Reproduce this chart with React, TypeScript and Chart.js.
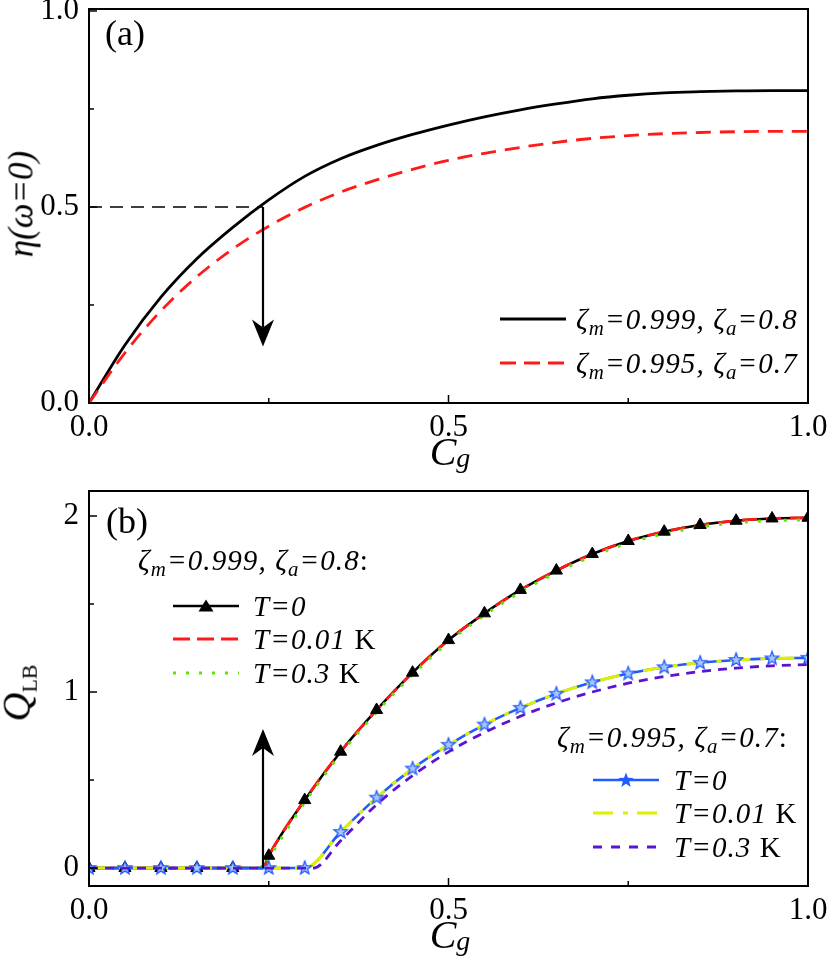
import { useEffect, useRef, type CSSProperties, type ReactNode } from "react";
import { Chart, registerables, type ChartConfiguration, type Plugin } from "chart.js";

Chart.register(...registerables);

// ---- values ----
const CG = [0, 0.05, 0.1, 0.15, 0.2, 0.25, 0.3, 0.35, 0.4, 0.45, 0.5, 0.55, 0.6, 0.65, 0.7, 0.75, 0.8, 0.85, 0.9, 0.95, 1.0];

// (a) eta(omega=0)
const ETA_M999_A08 = [0, 0.148, 0.27, 0.368, 0.448, 0.518, 0.578, 0.623, 0.657, 0.685, 0.709, 0.73, 0.748, 0.763, 0.776, 0.785, 0.791, 0.794, 0.796, 0.797, 0.797];
const ETA_M995_A07 = [0, 0.128, 0.235, 0.322, 0.393, 0.451, 0.499, 0.538, 0.569, 0.596, 0.619, 0.637, 0.652, 0.665, 0.675, 0.682, 0.687, 0.69, 0.692, 0.693, 0.693];

// (b) Q_LB, zeta_m=0.999, zeta_a=0.8 (onset near C_g = 0.242)
const CG_999 = [0, 0.05, 0.1, 0.15, 0.2, 0.242, 0.25, 0.3, 0.35, 0.4, 0.45, 0.5, 0.55, 0.6, 0.65, 0.7, 0.75, 0.8, 0.85, 0.9, 0.95, 1.0];
const Q999_T0 = [0, 0, 0, 0, 0, 0, 0.07, 0.386, 0.661, 0.898, 1.11, 1.295, 1.447, 1.58, 1.69, 1.784, 1.858, 1.911, 1.949, 1.973, 1.986, 1.99];
const Q999_T001 = [0, 0, 0, 0, 0, 0, 0.07, 0.386, 0.661, 0.898, 1.11, 1.295, 1.447, 1.58, 1.69, 1.784, 1.858, 1.911, 1.949, 1.973, 1.986, 1.99];
const Q999_T03 = [0, 0, 0, 0, 0, 0, 0.055, 0.372, 0.648, 0.886, 1.098, 1.283, 1.436, 1.568, 1.678, 1.772, 1.846, 1.899, 1.937, 1.961, 1.974, 1.978];

// (b) Q_LB, zeta_m=0.995, zeta_a=0.7 (onset near C_g = 0.30)
const Q995_T0 = [0, 0, 0, 0, 0, 0, 0, 0.205, 0.4, 0.565, 0.7, 0.815, 0.91, 0.99, 1.055, 1.105, 1.141, 1.166, 1.182, 1.191, 1.194];
const Q995_T001 = [0, 0, 0, 0, 0, 0, 0, 0.205, 0.4, 0.565, 0.7, 0.815, 0.91, 0.99, 1.055, 1.105, 1.141, 1.166, 1.182, 1.191, 1.194];
const CG_995_T03 = [0, 0.05, 0.1, 0.15, 0.2, 0.25, 0.3, 0.312, 0.35, 0.4, 0.45, 0.5, 0.55, 0.6, 0.65, 0.7, 0.75, 0.8, 0.85, 0.9, 0.95, 1.0];
const Q995_T03 = [0, 0, 0, 0, 0, 0, 0, 0, 0.155, 0.36, 0.525, 0.66, 0.77, 0.862, 0.938, 1.0, 1.05, 1.088, 1.116, 1.136, 1.149, 1.156];

// axes
const X_TICKS = [0, 0.5, 1];
const X_TICK_LABELS = ["0.0", "0.5", "1.0"];
const X_MINOR = [0.25, 0.75];
const YA_TICKS = [0, 0.5, 1];
const YA_TICK_LABELS = ["0.0", "0.5", "1.0"];
const YA_MINOR = [0.25, 0.75];
const YB_TICKS = [0, 1, 2];
const YB_TICK_LABELS = ["0", "1", "2"];
const YB_MINOR = [0.5, 1.5];

// annotations
const ONSET_CG = 0.242;
const ETA_HALF = 0.5;
const ARROW_A_TIP = 0.144;
const ARROW_B_TIP = 0.79;

const SERIF = "'Liberation Serif', 'Times New Roman', Times, serif";
const TICK_FONT = { family: SERIF, size: 31 };

const BLUE = "#1f5cff";
const YELLOW = "#dcf000";
const PURPLE = "#5a14d2";
const RED = "#ff1a1a";
const GREEN = "#5fe600";

const pts = (xs: number[], ys: number[]) => xs.map((x, i) => ({ x, y: ys[i] }));
const onGrid = (p: { x: number }) => Math.abs(p.x * 20 - Math.round(p.x * 20)) < 1e-6;

function makeStar(fill: string, stroke: string, r: number): HTMLCanvasElement {
  const c = document.createElement("canvas");
  const s = Math.ceil(r * 2 + 4);
  c.width = s;
  c.height = s;
  const g = c.getContext("2d")!;
  g.beginPath();
  for (let k = 0; k < 10; k++) {
    const rr = k % 2 === 0 ? r : r * 0.42;
    const a = -Math.PI / 2 + (k * Math.PI) / 5;
    g.lineTo(s / 2 + rr * Math.cos(a), s / 2 + rr * Math.sin(a));
  }
  g.closePath();
  g.fillStyle = fill;
  g.fill();
  g.lineWidth = 1.3;
  g.strokeStyle = stroke;
  g.stroke();
  return c;
}

function drawArrow(ctx: CanvasRenderingContext2D, x: number, yFrom: number, yTo: number) {
  const dir = Math.sign(yTo - yFrom);
  const headLen = 27;
  const half = 11;
  const notch = 19;
  ctx.setLineDash([]);
  ctx.lineWidth = 2.2;
  ctx.beginPath();
  ctx.moveTo(x, yFrom);
  ctx.lineTo(x, yTo - dir * notch);
  ctx.stroke();
  ctx.beginPath();
  ctx.moveTo(x, yTo);
  ctx.lineTo(x - half, yTo - dir * headLen);
  ctx.lineTo(x, yTo - dir * notch);
  ctx.lineTo(x + half, yTo - dir * headLen);
  ctx.closePath();
  ctx.fill();
}

type Extra = (ctx: CanvasRenderingContext2D, sx: any, sy: any) => void;

function framePlugin(yMajor: number[], yMinor: number[], extra: Extra): Plugin {
  return {
    id: "frameTicks",
    afterDraw(chart) {
      const { ctx, chartArea: a, scales } = chart;
      const sx = scales.x;
      const sy = scales.y;
      ctx.save();
      ctx.strokeStyle = "#000";
      ctx.fillStyle = "#000";
      extra(ctx, sx, sy);
      ctx.setLineDash([]);
      ctx.lineWidth = 1.5;
      const xt = (v: number, len: number) => {
        const px = sx.getPixelForValue(v);
        ctx.beginPath();
        ctx.moveTo(px, a.bottom);
        ctx.lineTo(px, a.bottom - len);
        ctx.stroke();
      };
      const yt = (v: number, len: number) => {
        const py = sy.getPixelForValue(v);
        ctx.beginPath();
        ctx.moveTo(a.left, py);
        ctx.lineTo(a.left + len, py);
        ctx.stroke();
      };
      X_TICKS.forEach((v) => xt(v, 8));
      X_MINOR.forEach((v) => xt(v, 5));
      yMajor.forEach((v) => yt(v, 8));
      yMinor.forEach((v) => yt(v, 5));
      ctx.lineWidth = 2;
      ctx.strokeRect(a.left, a.top, a.right - a.left, a.bottom - a.top);
      ctx.restore();
    },
  };
}

function xAxis(): any {
  return {
    type: "linear",
    min: 0,
    max: 1,
    grid: { display: false, drawTicks: false },
    border: { display: false },
    ticks: {
      font: TICK_FONT,
      color: "#000",
      padding: 6,
      maxRotation: 0,
      autoSkip: false,
      callback: (_v: any, i: number) => X_TICK_LABELS[i],
    },
    afterBuildTicks: (s: any) => {
      s.ticks = X_TICKS.map((value) => ({ value }));
    },
    afterFit: (s: any) => {
      s.height = 50;
      s.paddingLeft = 0;
      s.paddingRight = 0;
    },
  };
}

function yAxis(min: number, max: number, ticks: number[], labels: string[]): any {
  return {
    type: "linear",
    min,
    max,
    grid: { display: false, drawTicks: false },
    border: { display: false },
    ticks: {
      font: TICK_FONT,
      color: "#000",
      padding: 10,
      autoSkip: false,
      callback: (_v: any, i: number) => labels[i],
    },
    afterBuildTicks: (s: any) => {
      s.ticks = ticks.map((value) => ({ value }));
    },
    afterFit: (s: any) => {
      s.width = 89;
      s.paddingTop = 0;
      s.paddingBottom = 0;
    },
  };
}

const line = (data: any[], color: string, width: number, dash: number[], order: number) => ({
  data,
  borderColor: color,
  borderWidth: width,
  borderDash: dash,
  borderCapStyle: "butt" as const,
  pointRadius: 0,
  fill: false,
  cubicInterpolationMode: "monotone" as const,
  order,
});

function PanelA() {
  const ref = useRef<HTMLCanvasElement>(null);
  useEffect(() => {
    const canvas = ref.current;
    if (!canvas) return;
    const extra: Extra = (ctx, sx, sy) => {
      const xo = sx.getPixelForValue(ONSET_CG);
      const yh = sy.getPixelForValue(ETA_HALF);
      ctx.lineWidth = 1.5;
      ctx.setLineDash([13, 8]);
      ctx.beginPath();
      ctx.moveTo(sx.getPixelForValue(0), yh);
      ctx.lineTo(xo, yh);
      ctx.stroke();
      drawArrow(ctx, xo, yh, sy.getPixelForValue(ARROW_A_TIP));
    };
    const config: ChartConfiguration = {
      type: "line",
      data: {
        datasets: [
          line(pts(CG, ETA_M995_A07), RED, 2.8, [15, 9], 0),
          line(pts(CG, ETA_M999_A08), "#000", 2.8, [], 1),
        ] as any,
      },
      options: {
        responsive: false,
        animation: false,
        layout: { padding: { left: 0, right: 20, top: 9, bottom: 17 } },
        plugins: { legend: { display: false }, tooltip: { enabled: false } },
        scales: { x: xAxis(), y: yAxis(0, 1.005, YA_TICKS, YA_TICK_LABELS) },
      },
      plugins: [framePlugin(YA_TICKS, YA_MINOR, extra)],
    };
    Chart.getChart(canvas)?.destroy();
    const chart = new Chart(canvas, config);
    return () => chart.destroy();
  }, []);
  return <canvas ref={ref} width={828} height={470} style={{ position: "absolute", left: 0, top: 0 }} />;
}

function PanelB() {
  const ref = useRef<HTMLCanvasElement>(null);
  useEffect(() => {
    const canvas = ref.current;
    if (!canvas) return;
    const star = makeStar("#a9c4ff", BLUE, 7);
    const extra: Extra = (ctx, sx, sy) => {
      drawArrow(ctx, sx.getPixelForValue(ONSET_CG), sy.getPixelForValue(0), sy.getPixelForValue(ARROW_B_TIP));
    };
    const config: ChartConfiguration = {
      type: "line",
      data: {
        datasets: [
          line(pts(CG_995_T03, Q995_T03), PURPLE, 2.8, [9, 7], 0),
          {
            data: pts(CG, Q995_T0).filter(onGrid),
            showLine: false,
            pointStyle: star,
            pointRadius: 7,
            order: 1,
          },
          {
            data: pts(CG_999, Q999_T0).filter(onGrid),
            showLine: false,
            pointStyle: "triangle",
            pointRadius: 7,
            pointBackgroundColor: "#000",
            pointBorderColor: "#000",
            pointBorderWidth: 1,
            order: 2,
          },
          line(pts(CG, Q995_T001), YELLOW, 3, [20, 10, 5, 9], 3),
          line(pts(CG, Q995_T0), BLUE, 2.6, [], 4),
          line(pts(CG_999, Q999_T03), GREEN, 3, [3, 10], 5),
          line(pts(CG_999, Q999_T001), RED, 2.8, [15, 9], 6),
          line(pts(CG_999, Q999_T0), "#000", 2.6, [], 7),
        ] as any,
      },
      options: {
        responsive: false,
        animation: false,
        layout: { padding: { left: 0, right: 20, top: 21, bottom: 29 } },
        plugins: { legend: { display: false }, tooltip: { enabled: false } },
        scales: { x: xAxis(), y: yAxis(-0.102, 2.142, YB_TICKS, YB_TICK_LABELS) },
      },
      plugins: [framePlugin(YB_TICKS, YB_MINOR, extra)],
    };
    Chart.getChart(canvas)?.destroy();
    const chart = new Chart(canvas, config);
    return () => chart.destroy();
  }, []);
  return <canvas ref={ref} width={828} height={495} style={{ position: "absolute", left: 0, top: 470 }} />;
}

// ---- text overlays ----
const SUB: CSSProperties = { fontSize: "0.72em", verticalAlign: "-0.28em", lineHeight: 0 };

function Zeta({ m, a, colon }: { m: string; a: string; colon?: boolean }) {
  return (
    <span style={{ fontStyle: "italic" }}>
      ζ<span style={SUB}>m</span>={m}, ζ<span style={SUB}>a</span>={a}
      {colon ? <span style={{ fontStyle: "normal" }}>:</span> : null}
    </span>
  );
}

function TLabel({ t, unit }: { t: string; unit?: boolean }) {
  return (
    <span>
      <i>T={t}</i>
      {unit ? " K" : ""}
    </span>
  );
}

function starPoints(cx: number, cy: number, r: number) {
  const out: string[] = [];
  for (let k = 0; k < 10; k++) {
    const rr = k % 2 === 0 ? r : r * 0.42;
    const a = -Math.PI / 2 + (k * Math.PI) / 5;
    out.push(`${(cx + rr * Math.cos(a)).toFixed(2)},${(cy + rr * Math.sin(a)).toFixed(2)}`);
  }
  return out.join(" ");
}

function Sample({ color, dash, width = 2.6, marker }: { color: string; dash?: string; width?: number; marker?: "tri" | "star" }) {
  return (
    <svg width={66} height={20} style={{ flex: "none", display: "block" }}>
      <line x1={0} x2={66} y1={10} y2={10} stroke={color} strokeWidth={width} strokeDasharray={dash} />
      {marker === "tri" ? <polygon points="25.5,15.5 40.5,15.5 33,3.5" fill="#000" /> : null}
      {marker === "star" ? <polygon points={starPoints(33, 10.5, 8)} fill={BLUE} /> : null}
    </svg>
  );
}

function Row({ left, cy, gap, sample, children }: { left: number; cy: number; gap: number; sample?: ReactNode; children: ReactNode }) {
  const size = 29;
  return (
    <div
      style={{
        position: "absolute",
        left,
        top: cy - size / 2,
        height: size,
        display: "flex",
        alignItems: "center",
        whiteSpace: "nowrap",
        fontFamily: SERIF,
        fontSize: size,
        lineHeight: `${size}px`,
        letterSpacing: "1.1px",
        color: "#000",
      }}
    >
      {sample ? <div style={{ marginRight: gap }}>{sample}</div> : null}
      <span>{children}</span>
    </div>
  );
}

const abs = (s: CSSProperties): CSSProperties => ({ position: "absolute", fontFamily: SERIF, color: "#000", whiteSpace: "nowrap", ...s });

function XTitle({ top }: { top: number }) {
  return (
    <div style={abs({ left: 450, top, fontSize: 40, lineHeight: "40px", transform: "translateX(-50%)", fontStyle: "italic" })}>
      C<span style={{ fontSize: "0.7em", verticalAlign: "-0.08em" }}>g</span>
    </div>
  );
}

export default function App() {
  return (
    <div style={{ position: "relative", width: 828, height: 965, background: "#fff", overflow: "hidden" }}>
      <style>{`body{margin:0;background:#fff}`}</style>
      <PanelA />
      <PanelB />

      {/* panel (a) */}
      <div style={abs({ left: 105, top: 15, fontSize: 36, lineHeight: "36px" })}>(a)</div>
      <div
        style={abs({
          left: 21,
          top: 204,
          fontSize: 35,
          lineHeight: "35px",
          fontStyle: "italic",
          transform: "translate(-50%, -50%) rotate(-90deg)",
        })}
      >
        η(ω=0)
      </div>
      <XTitle top={432} />
      <Row left={500} cy={319} gap={10} sample={<Sample color="#000" width={2.8} />}>
        <Zeta m="0.999" a="0.8" />
      </Row>
      <Row left={500} cy={363} gap={10} sample={<Sample color={RED} dash="16 8" width={2.8} />}>
        <Zeta m="0.995" a="0.7" />
      </Row>

      {/* panel (b) */}
      <div style={abs({ left: 106, top: 503, fontSize: 36, lineHeight: "36px" })}>(b)</div>
      <div
        style={abs({
          left: 23,
          top: 693,
          fontSize: 40,
          lineHeight: "40px",
          transform: "translate(-50%, -50%) rotate(-90deg)",
        })}
      >
        <i>Q</i>
        <span style={{ fontSize: "0.55em", verticalAlign: "-0.3em" }}>LB</span>
      </div>
      <XTitle top={915} />

      <Row left={138} cy={560} gap={0}>
        <Zeta m="0.999" a="0.8" colon />
      </Row>
      <Row left={173} cy={606} gap={14} sample={<Sample color="#000" marker="tri" />}>
        <TLabel t="0" />
      </Row>
      <Row left={173} cy={639} gap={14} sample={<Sample color={RED} dash="17 7" width={2.8} />}>
        <TLabel t="0.01" unit />
      </Row>
      <Row left={173} cy={673} gap={14} sample={<Sample color={GREEN} dash="3 10" width={3} />}>
        <TLabel t="0.3" unit />
      </Row>

      <Row left={557} cy={737} gap={0}>
        <Zeta m="0.995" a="0.7" colon />
      </Row>
      <Row left={593} cy={780} gap={15} sample={<Sample color={BLUE} marker="star" />}>
        <TLabel t="0" />
      </Row>
      <Row left={593} cy={813} gap={15} sample={<Sample color={YELLOW} dash="20 10 5 9" width={3} />}>
        <TLabel t="0.01" unit />
      </Row>
      <Row left={593} cy={847} gap={15} sample={<Sample color={PURPLE} dash="9 9" width={2.8} />}>
        <TLabel t="0.3" unit />
      </Row>
    </div>
  );
}
